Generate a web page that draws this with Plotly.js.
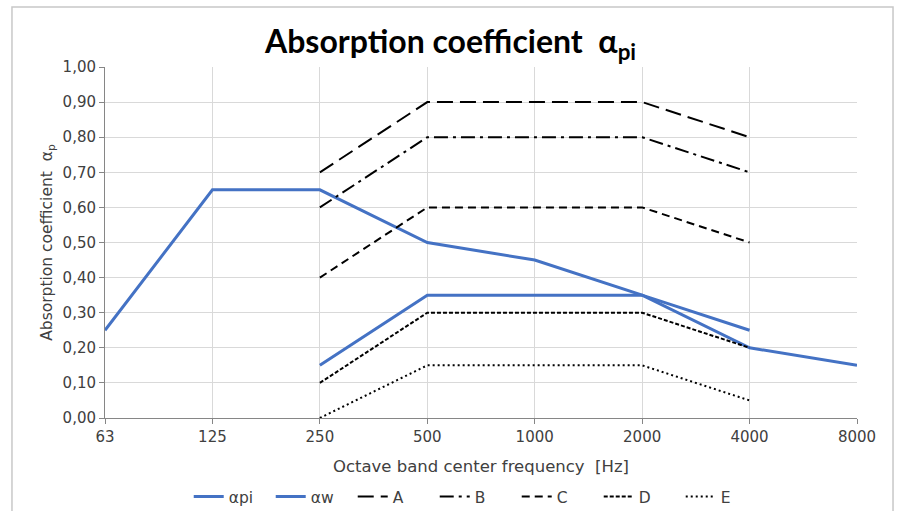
<!DOCTYPE html>
<html><head><meta charset="utf-8">
<script src="https://cdn.plot.ly/plotly-3.0.1.min.js"></script>
<style>body{margin:0;background:#fff}#c{width:901px;height:511px}</style>
</head><body><div id="c"></div>
<script>
const freqs = ['63','125','250','500','1000','2000','4000','8000'];
const apiVals = [0.25,0.65,0.65,0.50,0.45,0.35,0.20,0.15];
const awFreqs = ['250','500','1000','2000','4000'];
const awVals = [0.15,0.35,0.35,0.35,0.25];
const curveFreqs = ['250','500','1000','2000','4000'];
const A = [0.70,0.90,0.90,0.90,0.80];
const B = [0.60,0.80,0.80,0.80,0.70];
const C = [0.40,0.60,0.60,0.60,0.50];
const D = [0.10,0.30,0.30,0.30,0.20];
const E = [0.00,0.15,0.15,0.15,0.05];
const yTicks = [0,0.1,0.2,0.3,0.4,0.5,0.6,0.7,0.8,0.9,1.0];

const idx = f => freqs.indexOf(f);
const ff = "'DejaVu Sans', sans-serif";
const blue = '#4472C4';
function blk(name, ys, dash){
  return {x: curveFreqs.map(idx), y: ys, name: name, mode:'lines', type:'scatter',
    line:{color:'#000', width:2, dash:dash}};
}
const traces = [
  {x: freqs.map((f,i)=>i), y: apiVals, name:'αpi', mode:'lines', line:{color:blue,width:3}},
  {x: awFreqs.map(idx), y: awVals, name:'αw', mode:'lines', line:{color:blue,width:3}},
  blk('A', A, '16px,7px'),
  blk('B', B, '14px,5px,3px,5px'),
  blk('C', C, '8px,5px'),
  blk('D', D, '4px,2px'),
  blk('E', E, '2px,3px')
];
const layout = {
  width:901, height:511,
  margin:{l:105, r:44, t:67, b:93},
  paper_bgcolor:'#fff', plot_bgcolor:'#fff',
  font:{family:ff, color:'#404040', size:15},
  title:{text:'<b>Absorption coefficient  α<sub>pi</sub></b>', font:{family:"Lato, sans-serif", size:32, color:'#000'},
    x:0.5, xanchor:'center', xref:'container', y:1-42/511, yanchor:'middle', yref:'container'},
  xaxis:{range:[0,7], tickvals:freqs.map((f,i)=>i), ticktext:freqs, showgrid:true, gridcolor:'#d9d9d9', gridwidth:1,
    ticks:'outside', ticklen:5, tickcolor:'#868686', showline:true, linecolor:'#868686', zeroline:false,
    automargin:false, tickfont:{size:15, color:'#404040'},
    title:{text:'Octave band center frequency  [Hz]', font:{size:16.5, color:'#404040'}, standoff:15}},
  yaxis:{range:[0,1.0], tickvals:yTicks, ticktext:yTicks.map(v=>v.toFixed(2).replace('.',',')),
    showgrid:true, gridcolor:'#d9d9d9', ticks:'outside', ticklen:5, tickcolor:'#868686',
    showline:true, linecolor:'#868686', zeroline:false, automargin:false, tickfont:{size:15, color:'#404040'},
    title:{text:'Absorption coefficient  α<sub>p</sub>', font:{size:15.5, color:'#404040'}, standoff:6}},
  legend:{orientation:'h', x:0.528, xanchor:'center', xref:'container', y:14/511, yanchor:'middle', yref:'container',
    font:{size:15.5, color:'#404040'}, itemwidth:30, entrywidth:37, entrywidthmode:'pixels', tracegroupgap:0},
  shapes:[{type:'rect', xref:'paper', yref:'paper', x0:-0.1237, x1:1.0479, y0:-0.5, y1:1.171, line:{color:'#c8c8c8', width:1.5}, fillcolor:'rgba(0,0,0,0)', layer:'below'}]
};
Plotly.newPlot('c', traces, layout, {displayModeBar:false});
</script></body></html>
